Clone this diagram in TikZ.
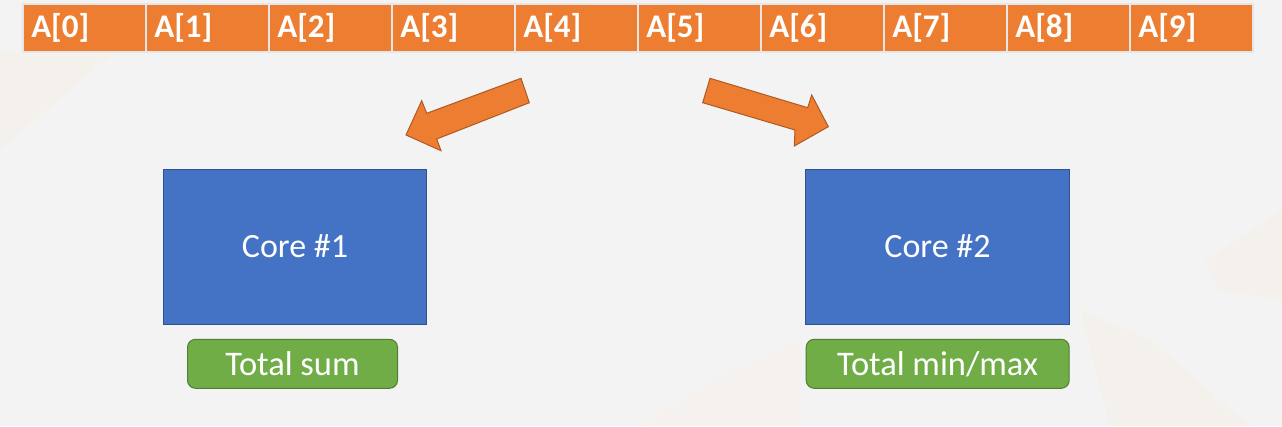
\documentclass[tikz,border=0pt]{standalone}
\usepackage{fontspec}
\setmainfont{Carlito}
\definecolor{bgc}{HTML}{F3F3F3}
\definecolor{beige}{HTML}{F5F1EA}
\definecolor{orng}{HTML}{ED7D31}
\definecolor{orngd}{HTML}{AE5A21}
\definecolor{cellb}{HTML}{E6E6E6}
\definecolor{blu}{HTML}{4472C4}
\definecolor{blud}{HTML}{2F528F}
\definecolor{grn}{HTML}{70AD47}
\definecolor{grnd}{HTML}{507E32}
\tikzset{
  cell/.style={draw=cellb, line width=1.5pt, fill=orng, anchor=north west,
    minimum width=123pt, minimum height=48pt, text width=106pt, inner xsep=8.5pt,
    align=left, text=white, font=\fontsize{33}{36}\selectfont\bfseries},
  core/.style={draw=blud, line width=1pt, fill=blu, minimum width=263pt,
    minimum height=155pt, text=white, font=\fontsize{34}{38}\selectfont},
  result/.style={draw=grnd, line width=1pt, fill=grn, rounded corners=8pt,
    minimum height=49pt, text=white, font=\fontsize{34.5}{38}\selectfont},
  blockarrow/.style={draw=orngd, line width=1pt, fill=orng, line join=miter}
}
\begin{document}
\begin{tikzpicture}[x=1pt,y=-1pt]
\useasboundingbox (0,0) rectangle (1282,426);
\fill[bgc] (0,0) rectangle (1282,426);
% faint background shapes
\fill[beige, opacity=0.7] (0,52) -- (115,52) -- (95,68) -- (0,150) -- cycle;
\fill[beige, opacity=0.7] (1282,210) -- (1205,260) -- (1218,290) -- (1282,300) -- cycle;
\fill[beige, opacity=0.7] (1080,310) -- (1150,340) -- (1250,426) -- (1110,426) -- cycle;
\fill[beige, opacity=0.5] (640,426) -- (720,375) -- (800,340) -- (800,426) -- cycle;
% array
\foreach \i in {0,...,9}{
  \node[cell] (a\i) at ({22+123*\i},3) {A[\i]};
}
% cores
\node[core] (c1) at (295,246.5) {Core \#1};
\node[core, minimum width=264pt] (c2) at (937.5,246.5) {Core \#2};
\node[result, minimum width=210pt] (r1) at (292.5,363.8) {Total sum};
\node[result, minimum width=263pt] (r2) at (937.7,363.8) {Total min/max};
% block arrows
\draw[blockarrow] (521,78.3) -- (529.3,102.7) -- (436.7,139) -- (441,150.7)
  -- (406,135) -- (421.7,100.7) -- (426.7,113.3) -- cycle;
\draw[blockarrow] (710,78.3) -- (807.7,107.7) -- (811.7,95) -- (828.3,126.7)
  -- (794.3,146) -- (795,130) -- (702.7,102.7) -- cycle;
\end{tikzpicture}
\end{document}
